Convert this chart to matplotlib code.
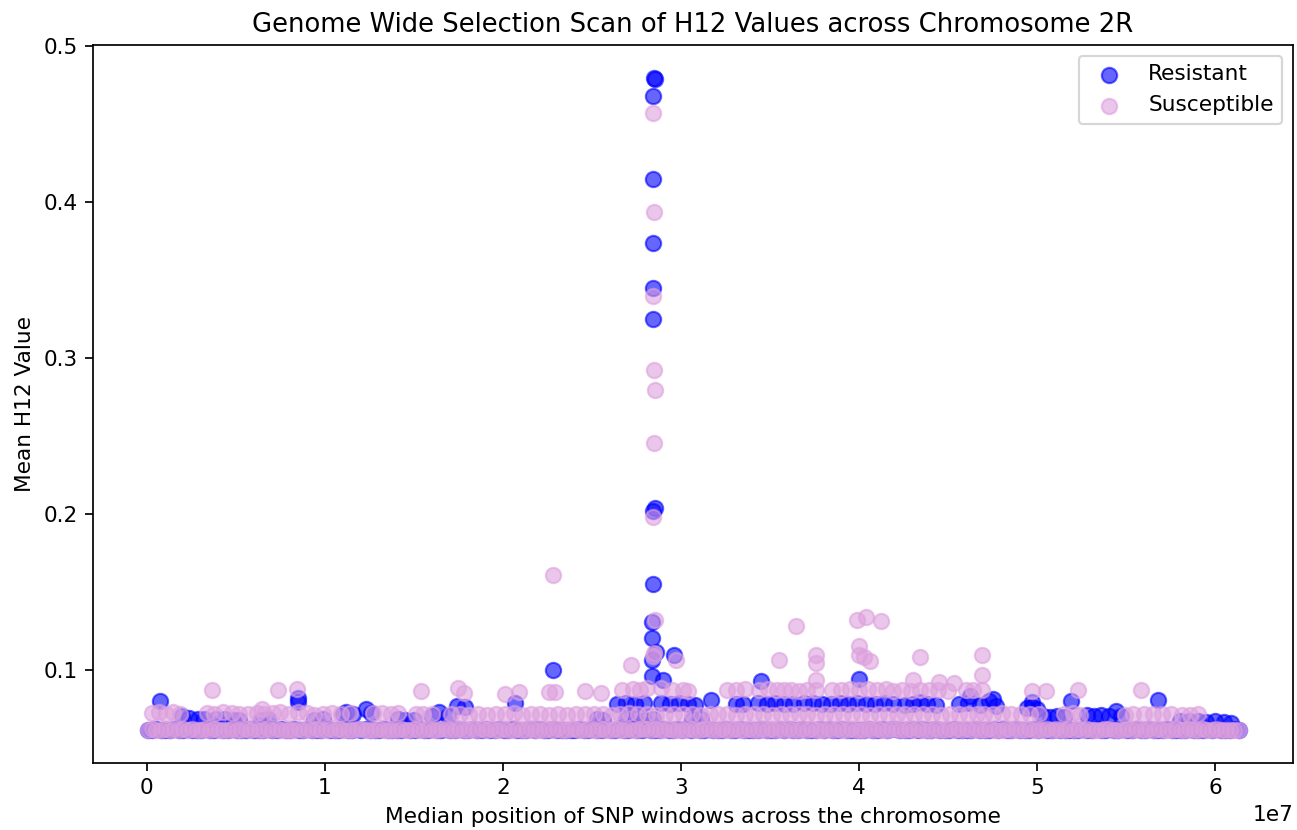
import numpy as np
import matplotlib
matplotlib.use('Agg')
import matplotlib.pyplot as plt

# SNP window medians (Mb) shared by both groups
window_mb = [
    0.05, 0.30, 0.55, 0.80, 1.05, 1.30, 1.55, 1.80,
    2.05, 2.30, 2.55, 2.80, 3.05, 3.30, 3.55, 3.80,
    4.05, 4.30, 4.55, 4.80, 5.05, 5.30, 5.55, 5.80,
    6.05, 6.30, 6.55, 6.80, 7.05, 7.30, 7.55, 7.80,
    8.05, 8.30, 8.55, 8.80, 9.05, 9.30, 9.55, 9.80,
    10.05, 10.30, 10.55, 10.80, 11.05, 11.30, 11.55, 11.80,
    12.05, 12.30, 12.55, 12.80, 13.05, 13.30, 13.55, 13.80,
    14.05, 14.30, 14.55, 14.80, 15.05, 15.30, 15.55, 15.80,
    16.05, 16.30, 16.55, 16.80, 17.05, 17.30, 17.55, 17.80,
    18.05, 18.30, 18.55, 18.80, 19.05, 19.30, 19.55, 19.80,
    20.05, 20.30, 20.55, 20.80, 21.05, 21.30, 21.55, 21.80,
    22.05, 22.30, 22.55, 22.80, 23.05, 23.30, 23.55, 23.80,
    24.05, 24.30, 24.55, 24.80, 25.05, 25.30, 25.55, 25.80,
    26.05, 26.30, 26.55, 26.80, 27.05, 27.30, 27.55, 27.80,
    28.05, 28.30, 28.55, 28.80, 29.05, 29.30, 29.55, 29.80,
    30.05, 30.30, 30.55, 30.80, 31.05, 31.30, 31.55, 31.80,
    32.05, 32.30, 32.55, 32.80, 33.05, 33.30, 33.55, 33.80,
    34.05, 34.30, 34.55, 34.80, 35.05, 35.30, 35.55, 35.80,
    36.05, 36.30, 36.55, 36.80, 37.05, 37.30, 37.55, 37.80,
    38.05, 38.30, 38.55, 38.80, 39.05, 39.30, 39.55, 39.80,
    40.05, 40.30, 40.55, 40.80, 41.05, 41.30, 41.55, 41.80,
    42.05, 42.30, 42.55, 42.80, 43.05, 43.30, 43.55, 43.80,
    44.05, 44.30, 44.55, 44.80, 45.05, 45.30, 45.55, 45.80,
    46.05, 46.30, 46.55, 46.80, 47.05, 47.30, 47.55, 47.80,
    48.05, 48.30, 48.55, 48.80, 49.05, 49.30, 49.55, 49.80,
    50.05, 50.30, 50.55, 50.80, 51.05, 51.30, 51.55, 51.80,
    52.05, 52.30, 52.55, 52.80, 53.05, 53.30, 53.55, 53.80,
    54.05, 54.30, 54.55, 54.80, 55.05, 55.30, 55.55, 55.80,
    56.05, 56.30, 56.55, 56.80, 57.05, 57.30, 57.55, 57.80,
    58.05, 58.30, 58.55, 58.80, 59.05, 59.30, 59.55, 59.80,
    60.05, 60.30, 60.55, 60.80, 61.05, 61.30,
]

# baseline mean H12 per window
resistant_base = [
    0.0615, 0.0614, 0.0616, 0.0615, 0.0614, 0.0615, 0.0616, 0.0614,
    0.0614, 0.0616, 0.0615, 0.0614, 0.0615, 0.0616, 0.0615, 0.0614,
    0.0616, 0.0615, 0.0614, 0.0616, 0.0615, 0.0614, 0.0615, 0.0616,
    0.0615, 0.0614, 0.0615, 0.0616, 0.0614, 0.0615, 0.0616, 0.0615,
    0.0614, 0.0616, 0.0615, 0.0614, 0.0616, 0.0615, 0.0614, 0.0615,
    0.0616, 0.0615, 0.0614, 0.0615, 0.0616, 0.0614, 0.0615, 0.0616,
    0.0615, 0.0616, 0.0614, 0.0615, 0.0614, 0.0616, 0.0615, 0.0614,
    0.0614, 0.0615, 0.0616, 0.0614, 0.0615, 0.0616, 0.0614, 0.0615,
    0.0616, 0.0614, 0.0615, 0.0616, 0.0615, 0.0614, 0.0616, 0.0615,
    0.0615, 0.0616, 0.0614, 0.0615, 0.0616, 0.0615, 0.0614, 0.0616,
    0.0614, 0.0615, 0.0616, 0.0614, 0.0615, 0.0614, 0.0616, 0.0615,
    0.0616, 0.0614, 0.0615, 0.0616, 0.0614, 0.0615, 0.0615, 0.0614,
    0.0615, 0.0616, 0.0614, 0.0615, 0.0616, 0.0614, 0.0615, 0.0616,
    0.0614, 0.0615, 0.0616, 0.0615, 0.0614, 0.0616, 0.0615, 0.0614,
    0.0616, 0.0614, 0.0615, 0.0614, 0.0616, 0.0615, 0.0614, 0.0616,
    0.0615, 0.0616, 0.0614, 0.0616, 0.0615, 0.0614, 0.0616, 0.0615,
    0.0614, 0.0615, 0.0616, 0.0614, 0.0615, 0.0616, 0.0615, 0.0614,
    0.0615, 0.0614, 0.0616, 0.0615, 0.0614, 0.0615, 0.0616, 0.0614,
    0.0616, 0.0615, 0.0614, 0.0616, 0.0615, 0.0614, 0.0615, 0.0616,
    0.0614, 0.0616, 0.0615, 0.0614, 0.0616, 0.0615, 0.0614, 0.0615,
    0.0615, 0.0614, 0.0616, 0.0615, 0.0614, 0.0616, 0.0615, 0.0616,
    0.0616, 0.0615, 0.0614, 0.0615, 0.0616, 0.0614, 0.0616, 0.0615,
    0.0614, 0.0616, 0.0615, 0.0614, 0.0615, 0.0616, 0.0614, 0.0615,
    0.0615, 0.0614, 0.0616, 0.0615, 0.0614, 0.0615, 0.0616, 0.0614,
    0.0616, 0.0615, 0.0614, 0.0616, 0.0615, 0.0614, 0.0615, 0.0616,
    0.0614, 0.0616, 0.0615, 0.0614, 0.0616, 0.0615, 0.0614, 0.0615,
    0.0615, 0.0614, 0.0616, 0.0615, 0.0614, 0.0616, 0.0615, 0.0614,
    0.0616, 0.0615, 0.0614, 0.0616, 0.0615, 0.0614, 0.0616, 0.0615,
    0.0614, 0.0616, 0.0615, 0.0614, 0.0615, 0.0616, 0.0614, 0.0615,
    0.0615, 0.0614, 0.0616, 0.0615, 0.0614, 0.0615, 0.0616, 0.0614,
    0.0616, 0.0615, 0.0614, 0.0615, 0.0616, 0.0615,
]

susceptible_base = [
    0.0613, 0.0617, 0.0611, 0.0615, 0.0619, 0.0612, 0.0616, 0.0614,
    0.0616, 0.0612, 0.0618, 0.0613, 0.0611, 0.0617, 0.0614, 0.0620,
    0.0611, 0.0615, 0.0613, 0.0618, 0.0614, 0.0610, 0.0616, 0.0612,
    0.0618, 0.0614, 0.0612, 0.0616, 0.0613, 0.0619, 0.0611, 0.0615,
    0.0614, 0.0611, 0.0617, 0.0612, 0.0616, 0.0613, 0.0619, 0.0615,
    0.0612, 0.0616, 0.0614, 0.0620, 0.0611, 0.0615, 0.0612, 0.0617,
    0.0617, 0.0613, 0.0610, 0.0615, 0.0618, 0.0612, 0.0614, 0.0611,
    0.0613, 0.0618, 0.0615, 0.0611, 0.0616, 0.0614, 0.0612, 0.0619,
    0.0615, 0.0612, 0.0616, 0.0619, 0.0613, 0.0611, 0.0617, 0.0614,
    0.0611, 0.0616, 0.0613, 0.0617, 0.0612, 0.0618, 0.0615, 0.0613,
    0.0619, 0.0614, 0.0611, 0.0616, 0.0613, 0.0612, 0.0617, 0.0615,
    0.0612, 0.0615, 0.0619, 0.0613, 0.0617, 0.0614, 0.0611, 0.0616,
    0.0616, 0.0611, 0.0614, 0.0618, 0.0612, 0.0615, 0.0620, 0.0613,
    0.0613, 0.0617, 0.0612, 0.0615, 0.0619, 0.0611, 0.0614, 0.0618,
    0.0618, 0.0612, 0.0616, 0.0611, 0.0614, 0.0617, 0.0613, 0.0615,
    0.0611, 0.0615, 0.0618, 0.0614, 0.0612, 0.0616, 0.0619, 0.0612,
    0.0615, 0.0619, 0.0613, 0.0611, 0.0617, 0.0614, 0.0612, 0.0616,
    0.0612, 0.0614, 0.0617, 0.0613, 0.0616, 0.0610, 0.0618, 0.0614,
    0.0617, 0.0611, 0.0615, 0.0618, 0.0612, 0.0616, 0.0613, 0.0611,
    0.0614, 0.0618, 0.0612, 0.0616, 0.0611, 0.0615, 0.0617, 0.0613,
    0.0612, 0.0615, 0.0619, 0.0613, 0.0617, 0.0612, 0.0614, 0.0618,
    0.0616, 0.0613, 0.0611, 0.0617, 0.0614, 0.0619, 0.0612, 0.0615,
    0.0613, 0.0617, 0.0614, 0.0611, 0.0618, 0.0613, 0.0616, 0.0612,
    0.0619, 0.0612, 0.0616, 0.0614, 0.0611, 0.0617, 0.0613, 0.0615,
    0.0611, 0.0616, 0.0613, 0.0618, 0.0615, 0.0612, 0.0617, 0.0614,
    0.0615, 0.0612, 0.0617, 0.0613, 0.0619, 0.0614, 0.0611, 0.0616,
    0.0612, 0.0618, 0.0614, 0.0616, 0.0611, 0.0615, 0.0613, 0.0617,
    0.0617, 0.0613, 0.0611, 0.0615, 0.0618, 0.0612, 0.0616, 0.0614,
    0.0614, 0.0616, 0.0612, 0.0618, 0.0613, 0.0615, 0.0611, 0.0617,
    0.0612, 0.0615, 0.0617, 0.0611, 0.0614, 0.0616, 0.0613, 0.0615,
    0.0616, 0.0612, 0.0614, 0.0611, 0.0615, 0.0613,
]

# windows sitting above the baseline: (position Mb, mean H12)
resistant_raised = [
    (2.0, 0.0700), (2.4, 0.0690), (2.9, 0.0686), (3.2, 0.0680), (3.9, 0.0680),
    (4.4, 0.0683), (4.9, 0.0679), (5.2, 0.0676), (6.4, 0.0678), (6.8, 0.0682),
    (9.4, 0.0677), (9.9, 0.0681), (11.0, 0.0712), (11.2, 0.0727), (11.6, 0.0718),
    (12.3, 0.0744), (12.6, 0.0723), (14.1, 0.0684), (14.5, 0.0679), (15.0, 0.0676),
    (16.0, 0.0705), (16.4, 0.0725), (16.9, 0.0700), (25.3, 0.0682), (25.6, 0.0678),
    (26.9, 0.0680), (27.4, 0.0683), (27.9, 0.0679), (28.4, 0.0681), (30.6, 0.0678),
    (31.1, 0.0680),
    (26.4, 0.0782), (26.9, 0.0786), (27.4, 0.0779), (27.9, 0.0788), (28.9, 0.0784),
    (29.4, 0.0780), (29.9, 0.0785), (30.4, 0.0779), (30.8, 0.0775),
    (33.1, 0.0778), (33.5, 0.0782), (34.3, 0.0785), (34.8, 0.0780), (35.3, 0.0786),
    (35.8, 0.0781), (36.3, 0.0777), (36.9, 0.0783), (37.4, 0.0788), (37.9, 0.0781),
    (38.4, 0.0779), (38.9, 0.0784), (39.4, 0.0780), (39.9, 0.0786), (40.4, 0.0782),
    (40.9, 0.0778), (41.4, 0.0783), (41.9, 0.0779), (42.6, 0.0776), (43.0, 0.0781),
    (43.8, 0.0778), (44.3, 0.0775), (45.6, 0.0779), (46.1, 0.0784),
    (46.8, 0.0770), (47.7, 0.0765), (49.4, 0.0752), (49.7, 0.0760), (50.0, 0.0745),
    (50.3, 0.0705), (50.7, 0.0698), (51.1, 0.0702), (51.5, 0.0695), (52.8, 0.0706),
    (53.2, 0.0702), (53.6, 0.0708), (54.0, 0.0704), (54.7, 0.0700), (58.0, 0.0672),
    (58.5, 0.0668), (59.0, 0.0671), (59.5, 0.0666), (60.0, 0.0669), (60.5, 0.0664),
    (60.9, 0.0660),
]

resistant_outliers = [
    (28.50, 0.4797), (28.55, 0.4785), (28.45, 0.4680), (28.45, 0.4147),
    (28.40, 0.3737), (28.45, 0.3447), (28.45, 0.3250), (28.55, 0.2035),
    (28.40, 0.2015), (28.40, 0.1548), (28.35, 0.1303), (28.35, 0.1203),
    (28.60, 0.1113), (28.35, 0.1060), (29.60, 0.1096), (28.35, 0.0957),
    (29.00, 0.0936), (22.80, 0.1000), (34.50, 0.0925), (40.00, 0.0940),
    (0.77, 0.0797), (8.50, 0.0820), (8.50, 0.0795), (20.70, 0.0787),
    (17.40, 0.0765), (17.90, 0.0760), (31.70, 0.0808), (43.40, 0.0790),
    (46.20, 0.0830), (47.30, 0.0797), (47.50, 0.0810), (49.70, 0.0790),
    (51.90, 0.0797), (56.80, 0.0808), (54.40, 0.0733),
]

susceptible_raised = [
    (0.3, 0.0722), (0.7, 0.0728), (1.1, 0.0718), (1.5, 0.0725), (1.9, 0.0715),
    (3.4, 0.0724), (3.8, 0.0717), (4.3, 0.0726), (4.8, 0.0720), (5.2, 0.0716),
    (5.7, 0.0712), (6.2, 0.0719), (6.6, 0.0714),
    (7.1, 0.0723), (7.5, 0.0727), (8.0, 0.0718), (8.5, 0.0725), (9.0, 0.0721),
    (9.4, 0.0711), (9.9, 0.0716),
    (10.4, 0.0720), (10.9, 0.0714), (11.4, 0.0722),
    (12.7, 0.0719), (13.2, 0.0724), (13.7, 0.0716), (14.1, 0.0721),
    (15.1, 0.0717), (15.5, 0.0712), (16.0, 0.0715),
    (17.1, 0.0713), (17.6, 0.0718), (18.1, 0.0709), (18.6, 0.0715), (19.1, 0.0711),
    (19.6, 0.0716), (20.1, 0.0712), (20.6, 0.0719), (21.1, 0.0710), (21.6, 0.0714),
    (22.1, 0.0717), (22.6, 0.0711), (23.1, 0.0715), (23.6, 0.0709), (24.1, 0.0713),
    (24.6, 0.0718), (25.1, 0.0712), (25.6, 0.0716), (26.1, 0.0710), (26.6, 0.0715),
    (27.1, 0.0719), (27.6, 0.0713), (28.1, 0.0717), (28.6, 0.0711), (29.1, 0.0716),
    (29.6, 0.0712), (30.1, 0.0718), (30.6, 0.0714), (31.1, 0.0710), (31.6, 0.0716),
    (32.1, 0.0712), (32.6, 0.0717), (33.1, 0.0711), (33.6, 0.0715), (34.1, 0.0713),
    (34.6, 0.0718), (35.1, 0.0710), (35.6, 0.0716), (36.1, 0.0712), (36.6, 0.0717),
    (37.1, 0.0714), (37.6, 0.0711), (38.1, 0.0716), (38.6, 0.0712), (39.1, 0.0718),
    (39.6, 0.0713), (40.1, 0.0717), (40.6, 0.0711), (41.1, 0.0715), (41.6, 0.0712),
    (42.1, 0.0716), (42.6, 0.0712), (43.1, 0.0718), (43.6, 0.0713), (44.1, 0.0715),
    (44.6, 0.0710), (45.1, 0.0717), (45.6, 0.0712), (46.1, 0.0716), (46.6, 0.0714),
    (47.0, 0.0718), (47.5, 0.0713), (48.0, 0.0720), (48.5, 0.0715),
    (49.1, 0.0717), (49.6, 0.0712), (50.1, 0.0716),
    (51.5, 0.0714), (52.0, 0.0719), (52.4, 0.0711),
    (54.9, 0.0710), (55.4, 0.0715),
    (56.0, 0.0713), (56.5, 0.0717), (57.0, 0.0712), (57.5, 0.0716),
    (58.1, 0.0711), (58.6, 0.0708), (59.0, 0.0713),
    (26.7, 0.0870), (27.3, 0.0876), (27.7, 0.0868), (28.1, 0.0881), (28.9, 0.0879),
    (29.5, 0.0871), (30.1, 0.0866), (30.4, 0.0862),
    (32.6, 0.0871), (33.1, 0.0866), (33.6, 0.0874),
    (34.4, 0.0869), (34.9, 0.0875), (35.4, 0.0866), (35.8, 0.0872), (36.2, 0.0868),
    (36.6, 0.0864), (37.1, 0.0870), (37.6, 0.0866),
    (38.5, 0.0872), (39.0, 0.0867), (39.5, 0.0874), (40.0, 0.0869), (40.5, 0.0876),
    (41.0, 0.0868), (41.5, 0.0873), (41.9, 0.0865),
    (42.4, 0.0868), (42.9, 0.0862), (43.4, 0.0870), (43.9, 0.0866), (44.4, 0.0872),
    (45.0, 0.0864), (46.0, 0.0871), (46.4, 0.0866),
]

susceptible_outliers = [
    (28.45, 0.4570), (28.50, 0.3938), (28.40, 0.3396), (28.50, 0.2920),
    (28.55, 0.2792), (28.50, 0.2451), (28.40, 0.1977), (28.55, 0.1316),
    (28.50, 0.1109), (28.40, 0.1085), (29.70, 0.1064), (27.20, 0.1032),
    (22.80, 0.1608), (22.60, 0.0855), (22.90, 0.0855),
    (3.65, 0.0872), (7.40, 0.0867), (8.45, 0.0878), (15.40, 0.0860),
    (17.50, 0.0885), (17.80, 0.0852), (20.10, 0.0846), (20.90, 0.0855),
    (24.60, 0.0861), (25.50, 0.0852), (6.50, 0.0744),
    (35.50, 0.1064), (36.45, 0.1277), (37.60, 0.1096), (37.60, 0.1043),
    (37.60, 0.0936), (39.90, 0.1320), (40.40, 0.1340), (41.20, 0.1310),
    (40.00, 0.1150), (40.00, 0.1096), (40.30, 0.1080), (40.60, 0.1053),
    (43.40, 0.1080), (43.00, 0.0930), (44.50, 0.0920), (45.30, 0.0915),
    (46.90, 0.1096), (46.90, 0.0968), (46.90, 0.0870),
    (49.70, 0.0861), (50.50, 0.0861), (52.30, 0.0872), (55.80, 0.0872),
]


def to_xy(base_y, raised, outliers):
    pts = np.array(raised + outliers)
    x = np.concatenate([np.array(window_mb), pts[:, 0]]) * 1e6
    y = np.concatenate([np.array(base_y), pts[:, 1]])
    return x, y


res_x, res_y = to_xy(resistant_base, resistant_raised, resistant_outliers)
sus_x, sus_y = to_xy(susceptible_base, susceptible_raised, susceptible_outliers)

dpi = 155.6
fig, ax = plt.subplots(figsize=(1297 / dpi, 830 / dpi), dpi=dpi)
ax.scatter(res_x, res_y, s=50, color='blue', alpha=0.6, label='Resistant')
ax.scatter(sus_x, sus_y, s=50, color='plum', alpha=0.6, label='Susceptible')

ax.set_title('Genome Wide Selection Scan of H12 Values across Chromosome 2R')
ax.set_xlabel('Median position of SNP windows across the chromosome')
ax.set_ylabel('Mean H12 Value')
ax.legend()

fig.subplots_adjust(left=0.0717, right=0.997, bottom=0.0807, top=0.9458)
fig.savefig('out.png', dpi=dpi)
